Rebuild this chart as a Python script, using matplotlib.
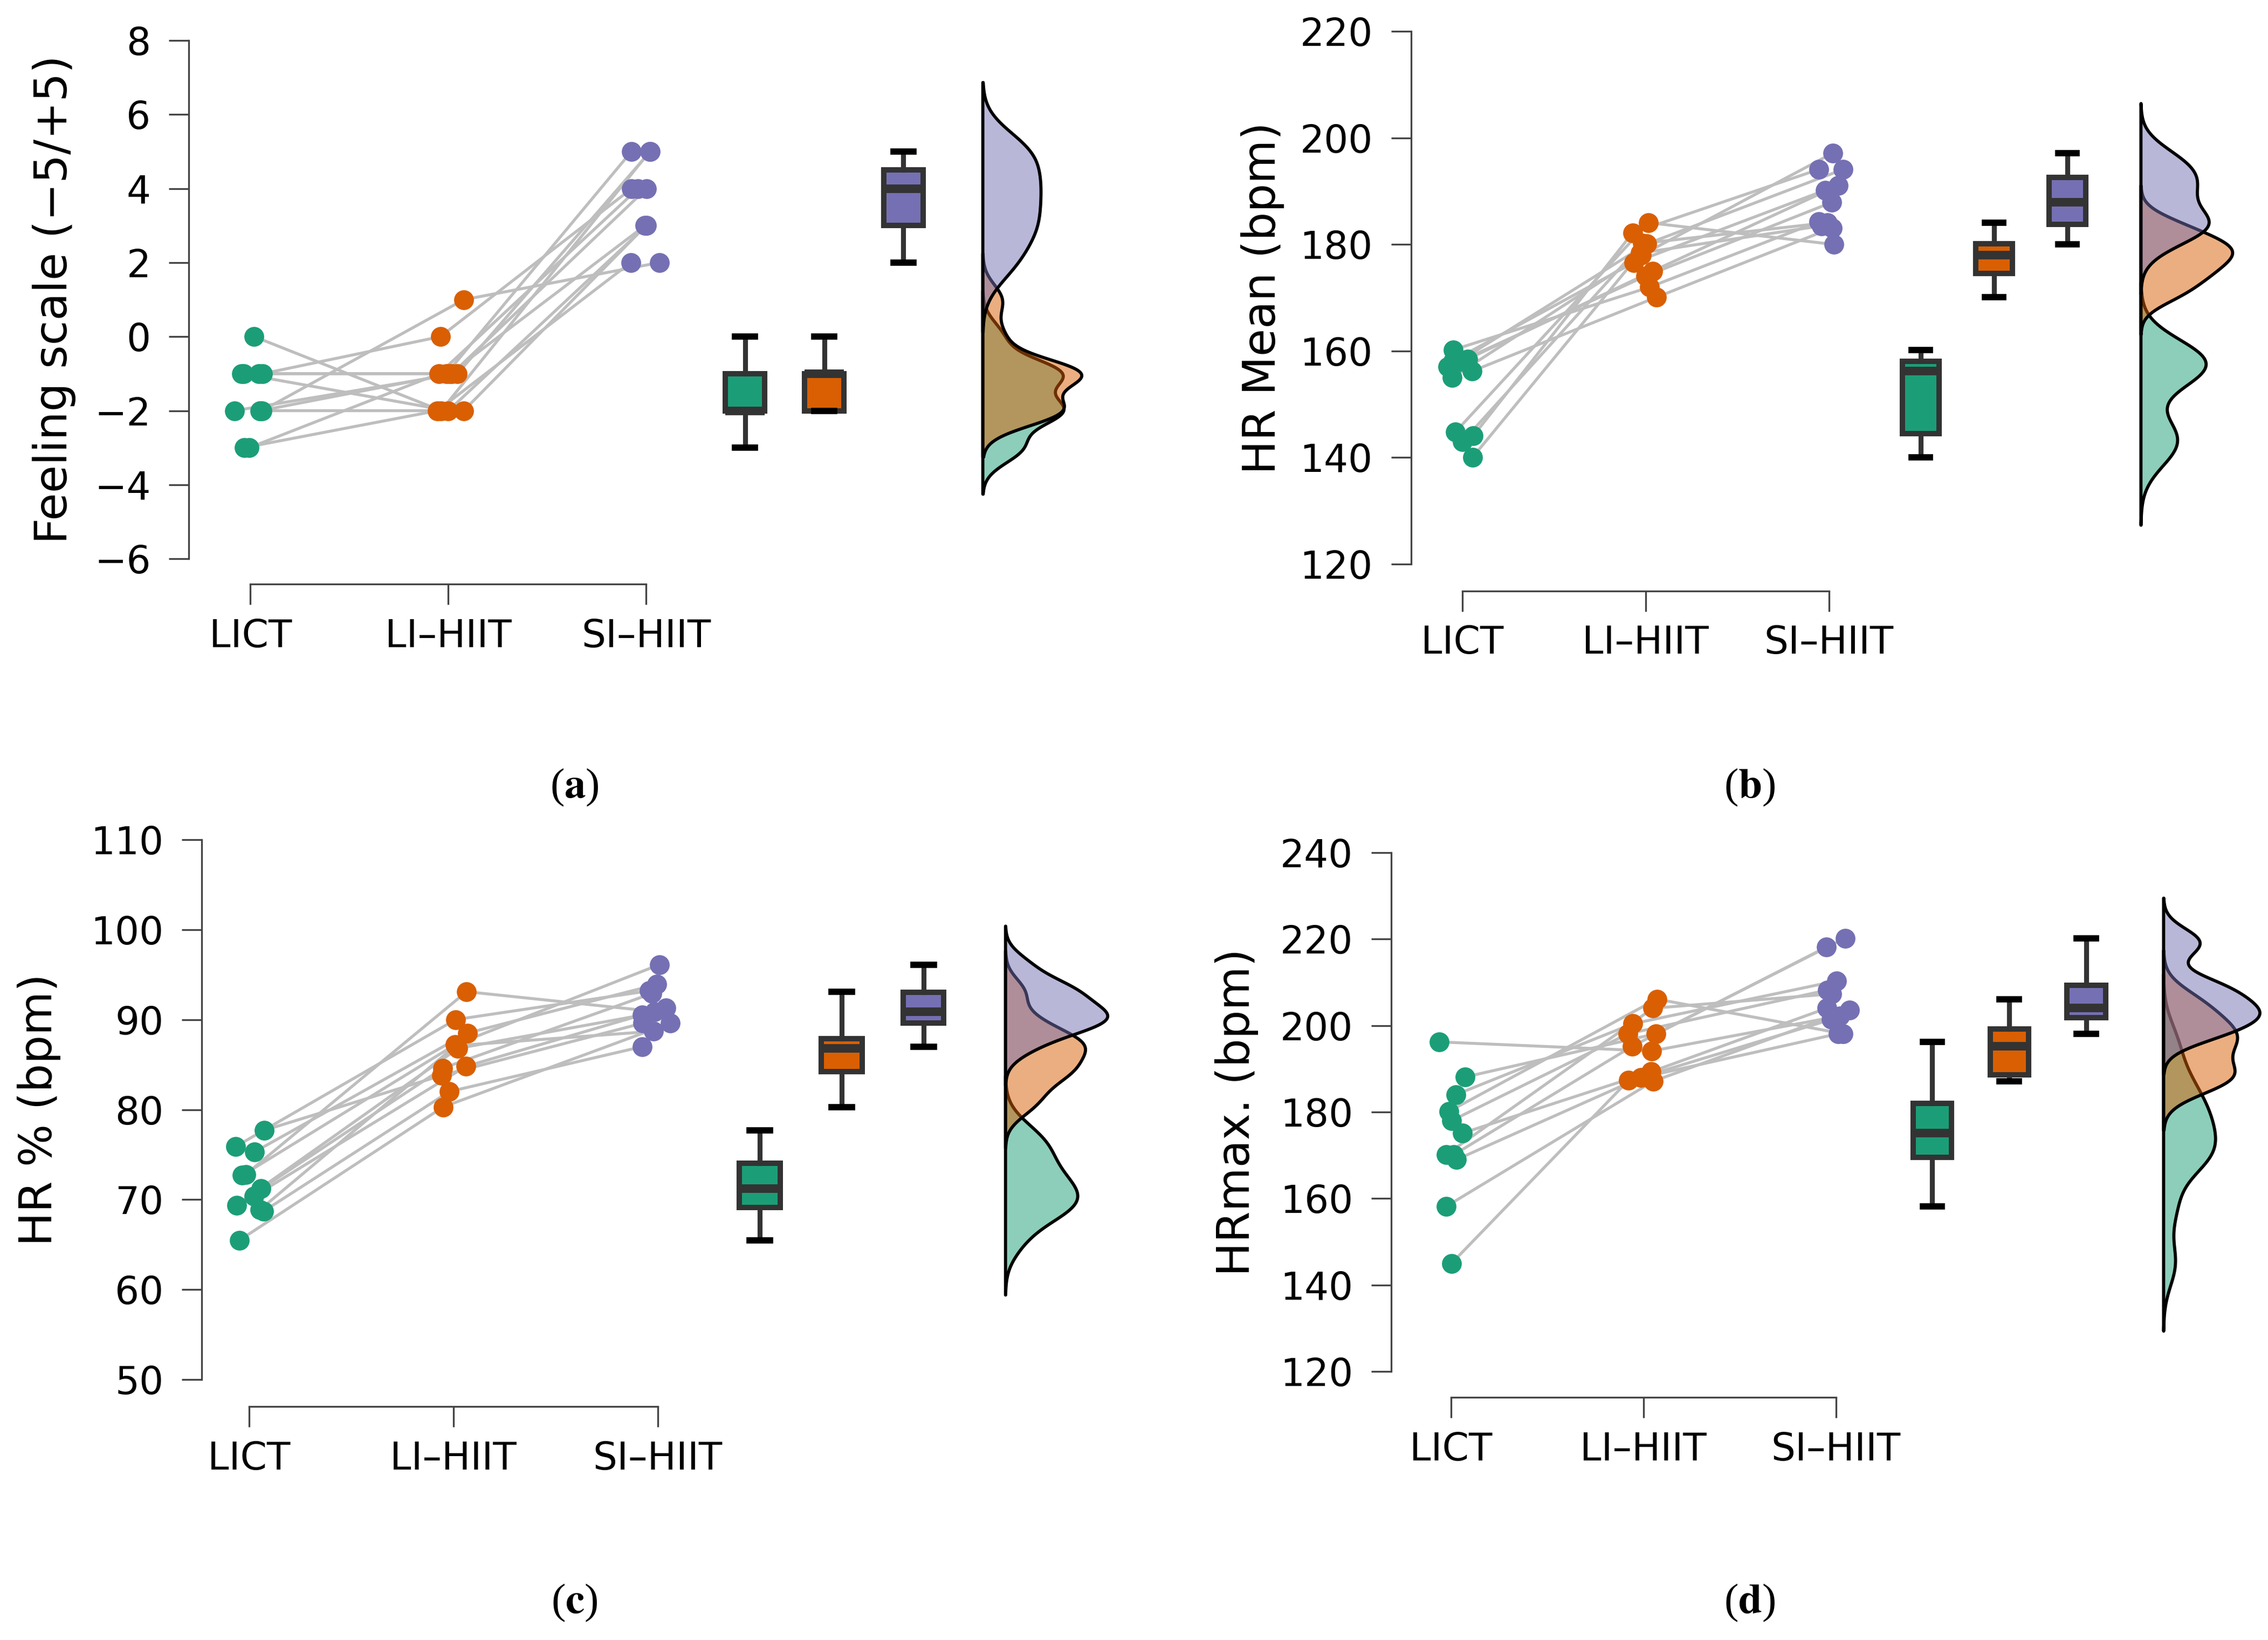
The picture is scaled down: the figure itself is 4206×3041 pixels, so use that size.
import matplotlib.pyplot as plt
import matplotlib.colors as mcolors
import numpy as np

plt.rcParams['font.family'] = ['DejaVu Sans']
plt.rcParams['mathtext.fontset'] = 'stix'

groups = ["LICT", "LI–HIIT", "SI–HIIT"]
colors = ["#1B9E77", "#D95F02", "#7570B3"]

# one entry per participant, same order in the three conditions
# (a) feeling scale
fs_lict = [0, -1, -1, -1, -1, -2, -2, -2, -2, -3, -3]
fs_li = [-2, 0, -1, -2, -1, 1, -1, -1, -2, -1, -2]
fs_si = [5, 4, 5, 3, 3, 2, 5, 4, 3, 4, 2]

# (b) HR mean (bpm)
hrm_lict = [160.2, 158.5, 158.2, 158.0, 157.0, 156.2, 155.0, 144.8, 144.1, 143.0, 140.0]
hrm_li = [172.0, 175.0, 176.6, 180.1, 174.1, 170.1, 178.0, 184.1, 182.2, 180.2, 178.4]
hrm_si = [184.3, 191.1, 190.2, 194.1, 187.9, 183.1, 197.2, 180.0, 194.1, 184.1, 183.5]

# (c) HR % (bpm)
hrp_lict = [72.8, 75.9, 77.7, 65.5, 75.3, 72.7, 71.2, 70.4, 69.4, 68.9, 68.7]
hrp_li = [93.1, 90.0, 83.8, 80.3, 88.5, 87.2, 84.6, 84.8, 86.8, 87.1, 82.0]
hrp_si = [90.9, 93.2, 89.6, 89.6, 93.9, 96.1, 92.9, 91.3, 90.5, 88.7, 87.0]

# (d) HRmax. (bpm)
hrx_lict = [196.2, 188.1, 184.0, 180.1, 178.0, 175.1, 170.1, 170.1, 169.0, 158.2, 145.0]
hrx_li = [194.1, 198.1, 200.4, 206.1, 198.1, 189.3, 204.0, 195.2, 188.0, 187.1, 187.3]
hrx_si = [202.2, 220.2, 210.3, 198.1, 208.2, 204.0, 207.3, 218.1, 201.4, 203.6, 198.1]


def kde(vals):
    # gaussian density like R density() with bw.nrd0 and cut = 3
    v = np.asarray(vals, float)
    n = len(v)
    sd = v.std(ddof=1)
    iqr = np.subtract(*np.percentile(v, [75, 25]))
    lo = min(sd, iqr / 1.34) if iqr > 0 else sd
    bw = 0.9 * lo * n ** -0.2
    y = np.linspace(v.min() - 3 * bw, v.max() + 3 * bw, 512)
    d = np.exp(-0.5 * ((y[:, None] - v[None, :]) / bw) ** 2).sum(1)
    d = d / (n * bw * np.sqrt(2 * np.pi))
    return y, d


rng = np.random.default_rng(7)


def raincloud(ax, data, ylim, step, ylabel, xleft, offset, label_x):
    n = len(data[0])
    jit = [i + 1 + rng.uniform(-0.08, 0.08, n) for i in range(3)]
    # paired lines
    for k in range(n):
        ax.plot([jit[0][k], jit[1][k], jit[2][k]],
                [data[0][k], data[1][k], data[2][k]],
                color="#BEBEBE", lw=1.3, zorder=1, clip_on=False)
    for i in range(3):
        ax.scatter(jit[i], data[i], s=78, color=colors[i], lw=0, zorder=3, clip_on=False)

    # boxes
    bp = ax.boxplot(data, positions=[3.5, 3.9, 4.3], widths=0.2, patch_artist=True,
                    showfliers=False, whis=1.5, capwidths=0.1, manage_ticks=False)
    for i, b in enumerate(bp['boxes']):
        b.set_facecolor(colors[i])
        b.set_edgecolor("#333333")
        b.set_linewidth(2.4)
    for m in bp['medians']:
        m.set_color("#333333")
        m.set_linewidth(3.8)
    for w in bp['whiskers']:
        w.set_color("#333333")
        w.set_linewidth(2.2)
    for c in bp['caps']:
        c.set_color("black")
        c.set_linewidth(2.8)

    # half violins, area scaled
    dens = [kde(v) for v in data]
    dmax = max(d.max() for _, d in dens)
    base = 4.7
    for i, (y, d) in enumerate(dens):
        ax.fill_betweenx(y, base, base + d / dmax * 0.5,
                         facecolor=mcolors.to_rgba(colors[i], 0.5),
                         edgecolor="black", lw=1.4, zorder=2 + i * 0.1, clip_on=False)

    ax.set_xlim(xleft, 5.22)
    ax.set_ylim(*ylim)
    ax.set_yticks(np.arange(ylim[0], ylim[1] + step / 2, step))
    ax.set_xticks([1, 2, 3])
    ax.set_xticklabels(groups)
    for s in ["top", "right"]:
        ax.spines[s].set_visible(False)
    ax.spines["left"].set_bounds(*ylim)
    ax.spines["bottom"].set_bounds(1, 3)
    ax.spines["bottom"].set_position(("outward", offset))
    for s in ["left", "bottom"]:
        ax.spines[s].set_linewidth(0.8)
        ax.spines[s].set_color("#444444")
    ax.tick_params(axis="both", length=9, width=0.8, color="#444444", labelsize=17)
    ax.tick_params(axis="y", pad=8)
    ax.tick_params(axis="x", pad=6)
    ax.text(label_x, 0.5, ylabel, transform=ax.transAxes, rotation=90,
            ha="center", va="center", fontsize=20)


fig = plt.figure(figsize=(4206 / 300, 3041 / 300), dpi=300)

ax_a = fig.add_axes([0.0833, 0.6593, 0.3953, 0.3160])
raincloud(ax_a, [fs_lict, fs_li, fs_si], (-6, 8), 2, "Feeling scale (−5/+5)", 0.69, 11.3, -0.15)

ax_b = fig.add_axes([0.6221, 0.6561, 0.3638, 0.3247])
raincloud(ax_b, [hrm_lict, hrm_li, hrm_si], (120, 220), 20, "HR Mean (bpm)", 0.72, 12, -0.18)

ax_c = fig.add_axes([0.0890, 0.1587, 0.4011, 0.3294])
raincloud(ax_c, [hrp_lict, hrp_li, hrp_si], (50, 110), 10, "HR % (bpm)", 0.77, 12, -0.179)

ax_d = fig.add_axes([0.6134, 0.1637, 0.3846, 0.3165])
raincloud(ax_d, [hrx_lict, hrx_li, hrx_si], (120, 240), 20, "HRmax. (bpm)", 0.69, 11.5, -0.177)

for txt, x, y in [("a", 0.2532, 0.5199), ("b", 0.7715, 0.5199),
                  ("c", 0.2532, 0.0227), ("d", 0.7715, 0.0227)]:
    fig.text(x, y, r"($\mathbf{%s}$)" % txt, family="Liberation Serif",
             fontsize=19, ha="center", va="center")

fig.savefig("out.png", dpi=300)
